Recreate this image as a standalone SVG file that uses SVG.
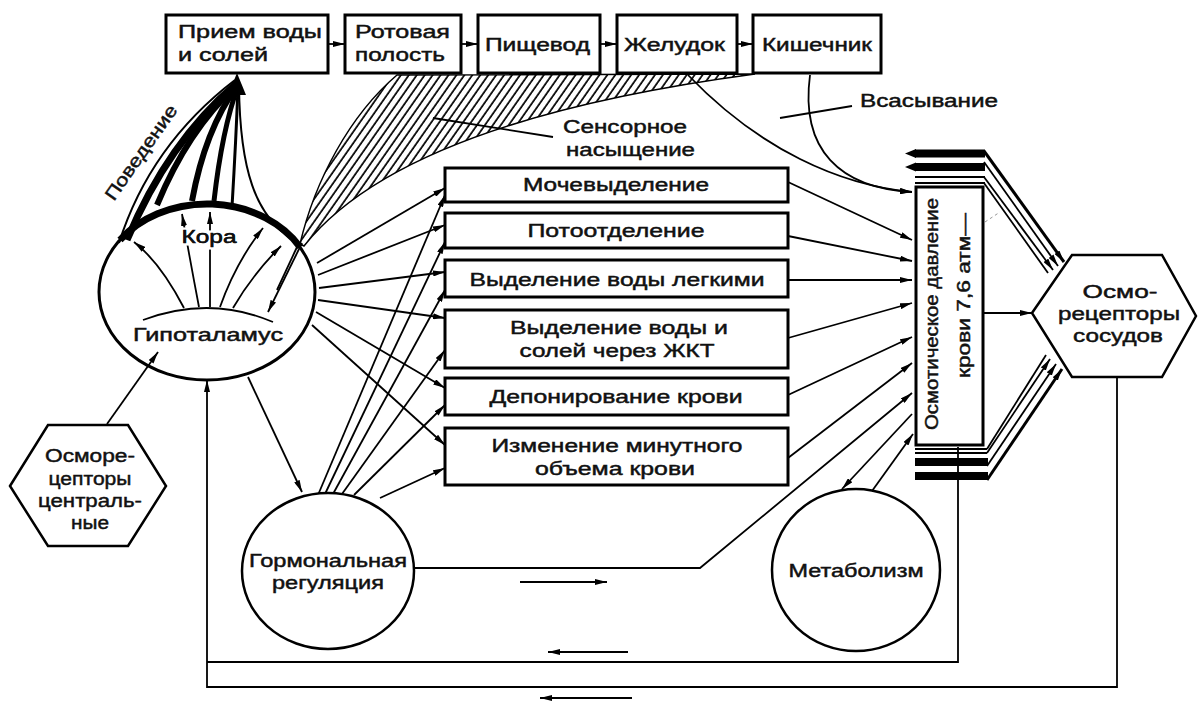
<svg xmlns="http://www.w3.org/2000/svg" width="1198" height="702" viewBox="0 0 1198 702">
<defs>
<style>
.bx{fill:#fff;stroke:#000;stroke-width:3}
.nd{fill:#fff;stroke:#000;stroke-width:2.5}
.ln{fill:none;stroke:#000;stroke-width:1.8}
.ar{fill:none;stroke:#000;stroke-width:1.8;marker-end:url(#ah)}
.tx{font-family:"Liberation Sans",Arial,sans-serif;font-size:18px;fill:#111;stroke:#111;stroke-width:0.45}
.mid{text-anchor:middle}
.bar{stroke:#000;stroke-width:8}
</style>
<marker id="ah" viewBox="0 0 12 6" refX="12" refY="3" markerWidth="12" markerHeight="6" markerUnits="userSpaceOnUse" orient="auto"><path d="M0,0 L12,3 L0,6 z" fill="#000"/></marker>
<pattern id="hatch" patternUnits="userSpaceOnUse" width="6.5" height="6.5" patternTransform="rotate(35)"><line x1="1" y1="0" x2="1" y2="6.5" stroke="#000" stroke-width="1.7"/></pattern>
</defs>
<rect width="1198" height="702" fill="#fff"/>

<g id="connectors">
<path d="M300,244 C315,180 350,115 397,75 L755,74 C560,100 380,150 304,246 Z" fill="url(#hatch)" stroke="#000" stroke-width="1.5"/>
<line class="ln" x1="433" y1="118" x2="553" y2="137"/>
<line class="ln" x1="780" y1="118" x2="852" y2="106"/>
<line class="ar" x1="302" y1="243" x2="268" y2="312"/>
<line class="ln" x1="297" y1="247" x2="277" y2="290"/>
<line class="ar" x1="328" y1="44" x2="345" y2="44"/>
<line class="ar" x1="461" y1="44" x2="478" y2="44"/>
<line class="ar" x1="600" y1="44" x2="617" y2="44"/>
<line class="ar" x1="737" y1="44" x2="753" y2="44"/>
<path class="ar" d="M688,75 C760,150 840,185 912,192"/>
<path class="ar" d="M810,75 C800,150 840,188 912,192"/>
<path class="ln" d="M119,243 Q150,145 235,80" style="stroke-width:2"/>
<path class="ln" d="M127,240 Q168,142 236,84" style="stroke-width:7"/>
<path class="ln" d="M157,205 Q188,130 236,86" style="stroke-width:6"/>
<path class="ln" d="M192,201 Q205,130 237,86" style="stroke-width:6"/>
<path class="ln" d="M214,201 Q222,130 238,86" style="stroke-width:5"/>
<path class="ln" d="M232,207 Q236,140 238,86" style="stroke-width:3"/>
<path class="ln" d="M293,240 C255,215 240,170 239,86" style="stroke-width:2"/>
<path d="M237,73 L228,95 L246,95 Z" fill="#000"/>
<line class="ar" x1="317" y1="263" x2="445" y2="188"/>
<line class="ar" x1="318" y1="275" x2="445" y2="225"/>
<line class="ar" x1="319" y1="288" x2="445" y2="272"/>
<line class="ar" x1="318" y1="300" x2="445" y2="318"/>
<line class="ar" x1="316" y1="312" x2="445" y2="388"/>
<line class="ar" x1="312" y1="325" x2="445" y2="445"/>
<line class="ar" x1="318" y1="495" x2="445" y2="195"/>
<line class="ar" x1="325" y1="494" x2="445" y2="242"/>
<line class="ar" x1="333" y1="494" x2="445" y2="290"/>
<line class="ar" x1="342" y1="494" x2="445" y2="350"/>
<line class="ar" x1="354" y1="495" x2="445" y2="405"/>
<line class="ar" x1="380" y1="498" x2="445" y2="468"/>
<line class="ar" x1="248" y1="377" x2="302" y2="492"/>
<line class="ar" x1="107" y1="424" x2="158" y2="352"/>
<line class="ar" x1="788" y1="182" x2="912" y2="240"/>
<line class="ar" x1="788" y1="236" x2="912" y2="261"/>
<line class="ar" x1="788" y1="280" x2="912" y2="280"/>
<line class="ar" x1="788" y1="338" x2="912" y2="303"/>
<line class="ar" x1="788" y1="395" x2="912" y2="337"/>
<line class="ar" x1="788" y1="458" x2="912" y2="363"/>
<path class="ar" d="M414,568 L700,568 L912,393"/>
<line class="ar" x1="912" y1="414" x2="842" y2="489"/>
<line class="ar" x1="872" y1="491" x2="913" y2="434"/>
<line class="ar" x1="983" y1="313" x2="1032" y2="313"/>
<line class="ln" x1="984" y1="151" x2="1064" y2="262" style="stroke-width:3;marker-end:url(#ah)"/>
<line class="ar" x1="984" y1="162" x2="1058" y2="266"/>
<line class="ar" x1="984" y1="177" x2="1053" y2="270"/>
<line class="ln" x1="984" y1="183" x2="1048" y2="273"/>
<line class="ln" x1="987" y1="449" x2="1046" y2="355"/>
<line class="ar" x1="987" y1="453" x2="1050" y2="359"/>
<line class="ar" x1="987" y1="466" x2="1056" y2="364"/>
<line class="ln" x1="987" y1="480" x2="1062" y2="369" style="stroke-width:3;marker-end:url(#ah)"/>
<line class="bar" x1="915" y1="153.5" x2="985" y2="153.5"/>
<path d="M905,153.5 L916,149 L916,158 Z" fill="#000"/>
<line class="bar" x1="915" y1="167" x2="985" y2="167"/>
<path d="M905,167 L916,162.5 L916,171.5 Z" fill="#000"/>
<line class="ln" x1="915" y1="177" x2="985" y2="177"/>
<line class="ln" x1="915" y1="183" x2="985" y2="183"/>
<line class="ln" x1="915" y1="449" x2="987" y2="449"/>
<line class="ln" x1="915" y1="453" x2="987" y2="453"/>
<line class="bar" x1="915" y1="462" x2="988" y2="462"/>
<line class="bar" x1="915" y1="476" x2="988" y2="476"/>
<line x1="970" y1="232" x2="1000" y2="212" stroke="#999" stroke-width="1" stroke-dasharray="3,3"/>
<path class="ln" d="M958,447 L958,662 L207,662"/>
<path class="ln" d="M1117,377 L1117,687 L207,687 L207,380" style="marker-end:url(#ah)"/>
<line class="ar" x1="520" y1="582" x2="607" y2="582"/>
<line class="ar" x1="628" y1="652" x2="548" y2="652"/>
<line class="ar" x1="632" y1="698" x2="540" y2="698"/>
</g>

<g id="n-intake"><rect class="bx" x="166" y="15" width="162" height="58"/>
<text class="tx" x="178" y="38" textLength="144" lengthAdjust="spacingAndGlyphs">Прием воды</text>
<text class="tx" x="178" y="61" textLength="90" lengthAdjust="spacingAndGlyphs">и солей</text></g>
<g id="n-mouth"><rect class="bx" x="345" y="15" width="116" height="58"/>
<text class="tx" x="355" y="38" textLength="95" lengthAdjust="spacingAndGlyphs">Ротовая</text>
<text class="tx" x="355" y="61" textLength="90" lengthAdjust="spacingAndGlyphs">полость</text></g>
<g id="n-esoph"><rect class="bx" x="478" y="15" width="122" height="58"/>
<text class="tx" x="485" y="51" textLength="105" lengthAdjust="spacingAndGlyphs">Пищевод</text></g>
<g id="n-stomach"><rect class="bx" x="617" y="15" width="120" height="58"/>
<text class="tx" x="624" y="51" textLength="101" lengthAdjust="spacingAndGlyphs">Желудок</text></g>
<g id="n-intestine"><rect class="bx" x="753" y="15" width="128" height="58"/>
<text class="tx" x="762" y="51" textLength="110" lengthAdjust="spacingAndGlyphs">Кишечник</text></g>

<g id="labels">
<text class="tx" x="563" y="133" textLength="124" lengthAdjust="spacingAndGlyphs">Сенсорное</text>
<text class="tx" x="566" y="156" textLength="129" lengthAdjust="spacingAndGlyphs">насыщение</text>
<text class="tx" x="860" y="107" textLength="138" lengthAdjust="spacingAndGlyphs">Всасывание</text>
<text class="tx mid" transform="translate(146,156) rotate(-55)" textLength="112" lengthAdjust="spacingAndGlyphs">Поведение</text>
</g>

<g id="n-brain">
<ellipse cx="207" cy="292" rx="108" ry="88" fill="none" stroke="#000" stroke-width="3"/>
<path d="M120,240 A108,88 0 0 1 300,247" fill="none" stroke="#000" stroke-width="7"/>
<path class="ln" d="M143,320 Q210,295 273,322"/>
<path class="ar" d="M184,308 Q160,262 134,242"/>
<path class="ar" d="M199,307 Q190,260 182,214"/>
<path class="ar" d="M210,307 L210,212"/>
<path class="ar" d="M220,307 Q236,262 263,228"/>
<path class="ar" d="M233,308 Q252,275 281,246"/>
<text class="tx mid" x="209" y="243" textLength="55" lengthAdjust="spacingAndGlyphs" style="stroke:#fff;stroke-width:5;paint-order:stroke">Кора</text>
<text class="tx mid" x="209" y="243" textLength="55" lengthAdjust="spacingAndGlyphs">Кора</text>
<text class="tx mid" x="208" y="341" textLength="150" lengthAdjust="spacingAndGlyphs">Гипоталамус</text>
</g>

<g id="n-central">
<polygon class="nd" points="10,486 48,425 128,425 166,486 128,546 48,546"/>
<text class="tx mid" x="90" y="462" textLength="90" lengthAdjust="spacingAndGlyphs">Осморе-</text>
<text class="tx mid" x="90" y="485" textLength="83" lengthAdjust="spacingAndGlyphs">цепторы</text>
<text class="tx mid" x="90" y="507" textLength="104" lengthAdjust="spacingAndGlyphs">централь-</text>
<text class="tx mid" x="90" y="529" textLength="38" lengthAdjust="spacingAndGlyphs">ные</text>
</g>

<g id="n-urine"><rect class="bx" x="445" y="168" width="343" height="34"/>
<text class="tx mid" x="616" y="191" textLength="186" lengthAdjust="spacingAndGlyphs">Мочевыделение</text></g>
<g id="n-sweat"><rect class="bx" x="445" y="213" width="343" height="35"/>
<text class="tx mid" x="616" y="237" textLength="177" lengthAdjust="spacingAndGlyphs">Потоотделение</text></g>
<g id="n-lungs"><rect class="bx" x="445" y="260" width="343" height="37"/>
<text class="tx mid" x="617" y="286" textLength="295" lengthAdjust="spacingAndGlyphs">Выделение воды легкими</text></g>
<g id="n-gi"><rect class="bx" x="445" y="310" width="343" height="58"/>
<text class="tx mid" x="619" y="334" textLength="218" lengthAdjust="spacingAndGlyphs">Выделение воды и</text>
<text class="tx mid" x="617" y="357" textLength="195" lengthAdjust="spacingAndGlyphs">солей через ЖКТ</text></g>
<g id="n-depot"><rect class="bx" x="445" y="378" width="343" height="37"/>
<text class="tx mid" x="616" y="403" textLength="253" lengthAdjust="spacingAndGlyphs">Депонирование крови</text></g>
<g id="n-volume"><rect class="bx" x="445" y="428" width="343" height="57"/>
<text class="tx mid" x="617" y="452" textLength="251" lengthAdjust="spacingAndGlyphs">Изменение минутного</text>
<text class="tx mid" x="615" y="475" textLength="160" lengthAdjust="spacingAndGlyphs">объема крови</text></g>

<g id="n-osmotic"><rect class="bx" x="916" y="187" width="67" height="258"/>
<text class="tx mid" transform="translate(938,314) rotate(-90)" textLength="232" lengthAdjust="spacingAndGlyphs">Осмотическое давление</text>
<text class="tx" transform="translate(970,378) rotate(-90)" textLength="165" lengthAdjust="spacingAndGlyphs">крови 7,6 атм—</text></g>

<g id="n-vascular">
<polygon class="nd" points="1032,313 1072,255 1162,255 1196,316 1162,377 1072,377"/>
<text class="tx mid" x="1120" y="298" textLength="75" lengthAdjust="spacingAndGlyphs">Осмо-</text>
<text class="tx mid" x="1119" y="320" textLength="122" lengthAdjust="spacingAndGlyphs">рецепторы</text>
<text class="tx mid" x="1118" y="342" textLength="90" lengthAdjust="spacingAndGlyphs">сосудов</text>
</g>

<g id="n-hormonal">
<ellipse class="nd" cx="328" cy="571" rx="86" ry="78"/>
<text class="tx mid" x="328" y="567" textLength="158" lengthAdjust="spacingAndGlyphs">Гормональная</text>
<text class="tx mid" x="328" y="589" textLength="112" lengthAdjust="spacingAndGlyphs">регуляция</text>
</g>

<g id="n-metab">
<ellipse class="nd" cx="856" cy="570" rx="84" ry="81"/>
<text class="tx mid" x="856" y="577" textLength="135" lengthAdjust="spacingAndGlyphs">Метаболизм</text>
</g>
</svg>
